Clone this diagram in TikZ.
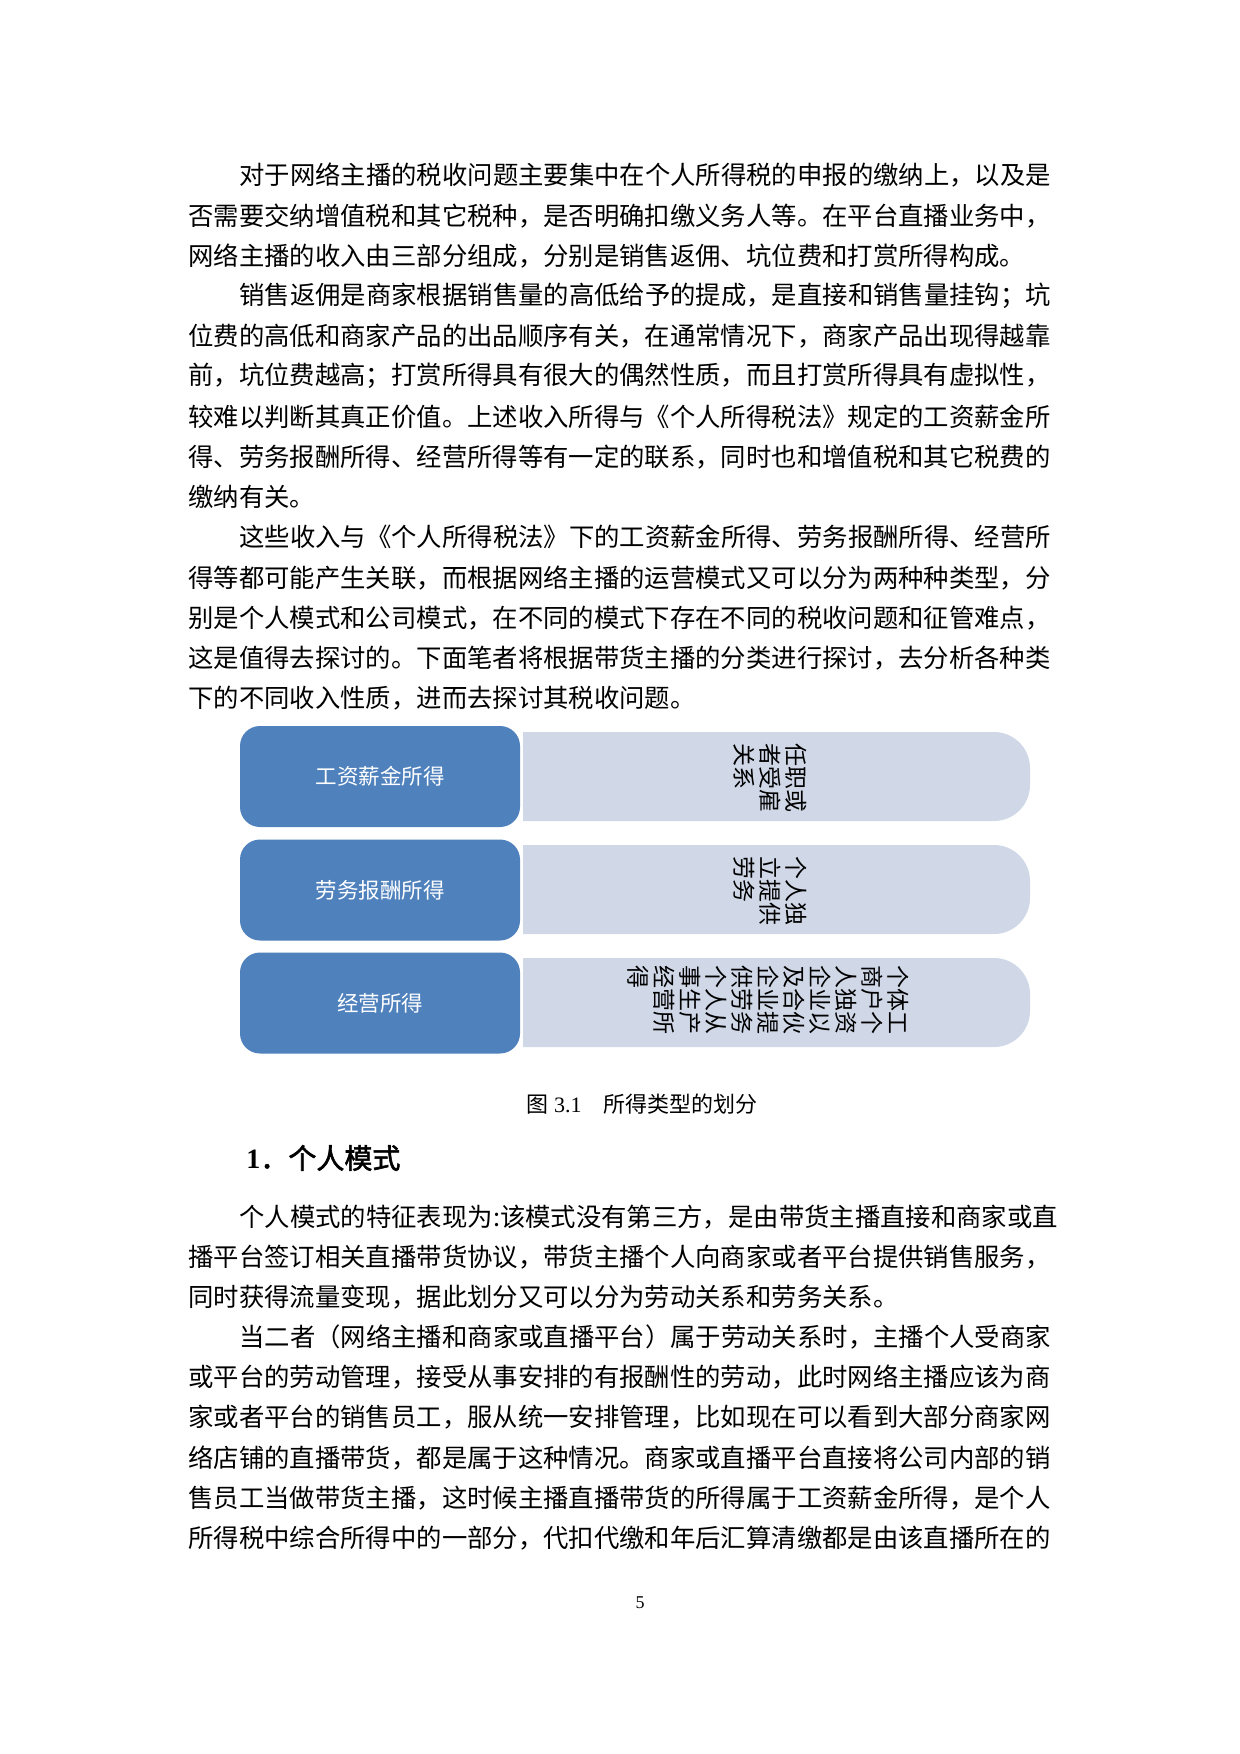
\documentclass[tikz,border=0pt]{standalone}
\usepackage{fontspec}
\setmainfont{Noto Sans CJK SC}
\newfontfamily\lat{Liberation Serif}
\newfontfamily\hd[FakeBold=2]{Noto Sans CJK SC}
\definecolor{lb}{HTML}{4F81BD}
\definecolor{rb}{HTML}{D0D8E8}
\begin{document}
\begin{tikzpicture}[x=0.5pt,y=-0.5pt,
  body/.style={anchor=west,inner sep=0pt,font=\fontsize{12.68}{12.68}\selectfont},
  lbox/.style={fill=lb,rounded corners=10pt,minimum width=140pt,minimum height=50.5pt,text=white,font=\fontsize{10.75}{12}\selectfont,inner sep=0pt},
  rtext/.style={rotate=-90,anchor=west,align=left,inner sep=0pt,font=\fontsize{11.5}{13}\selectfont}]
\useasboundingbox (0,0) rectangle (1240,1754);
\fill[white] (0,0) rectangle (1240,1754);
% paragraphs
\node[body] (l1) at (239,175) {对于网络主播的税收问题主要集中在个人所得税的申报的缴纳上，以及是};
\node[body] (l2) at (188,216) {否需要交纳增值税和其它税种，是否明确扣缴义务人等。在平台直播业务中，};
\node[body] (l3) at (188,256) {网络主播的收入由三部分组成，分别是销售返佣、坑位费和打赏所得构成。};
\node[body] (l4) at (239,296) {销售返佣是商家根据销售量的高低给予的提成，是直接和销售量挂钩；坑};
\node[body] (l5) at (188,336) {位费的高低和商家产品的出品顺序有关，在通常情况下，商家产品出现得越靠};
\node[body] (l6) at (188,376) {前，坑位费越高；打赏所得具有很大的偶然性质，而且打赏所得具有虚拟性，};
\node[body] (l7) at (188,417) {较难以判断其真正价值。上述收入所得与《个人所得税法》规定的工资薪金所};
\node[body] (l8) at (188,457) {得、劳务报酬所得、经营所得等有一定的联系，同时也和增值税和其它税费的};
\node[body] (l9) at (188,497) {缴纳有关。};
\node[body] (l10) at (239,537) {这些收入与《个人所得税法》下的工资薪金所得、劳务报酬所得、经营所};
\node[body] (l11) at (188,578) {得等都可能产生关联，而根据网络主播的运营模式又可以分为两种种类型，分};
\node[body] (l12) at (188,618) {别是个人模式和公司模式，在不同的模式下存在不同的税收问题和征管难点，};
\node[body] (l13) at (188,658) {这是值得去探讨的。下面笔者将根据带货主播的分类进行探讨，去分析各种类};
\node[body] (l14) at (188,698) {下的不同收入性质，进而去探讨其税收问题。};
% diagram
\fill[rb] (523,732) {[rounded corners=18pt] -- (1030,732) -- (1030,821)} -- (523,821) -- cycle;
\fill[rb] (523,845) {[rounded corners=18pt] -- (1030,845) -- (1030,934)} -- (523,934) -- cycle;
\fill[rb] (523,958) {[rounded corners=18pt] -- (1030,958) -- (1030,1047)} -- (523,1047) -- cycle;
\node[lbox] (b1) at (380,776.5) {工资薪金所得};
\node[lbox] (b2) at (380,890) {劳务报酬所得};
\node[lbox] (b3) at (380,1003) {经营所得};
\node[rtext] (t1) at (770,743) {任职或\\者受雇\\关系};
\node[rtext] (t2) at (770,856) {个人独\\立提供\\劳务};
\node[rtext] (t3) at (768,965) {个体工\\商户个\\人独资\\企业以\\及合伙\\企业提\\供劳务\\个人从\\事生产\\经营所\\得};
\node[inner sep=0pt,font=\fontsize{11}{11}\selectfont] (cap) at (642,1104) {图{\lat\ 3.1}　所得类型的划分};
\node[anchor=west,inner sep=0pt,font=\hd\fontsize{14}{14}\selectfont] (h1) at (246,1158) {{\lat\bfseries 1}．个人模式};
\node[body] (m1) at (239,1217) {个人模式的特征表现为:该模式没有第三方，是由带货主播直接和商家或直};
\node[body] (m2) at (188,1257) {播平台签订相关直播带货协议，带货主播个人向商家或者平台提供销售服务，};
\node[body] (m3) at (188,1297) {同时获得流量变现，据此划分又可以分为劳动关系和劳务关系。};
\node[body] (m4) at (239,1337) {当二者（网络主播和商家或直播平台）属于劳动关系时，主播个人受商家};
\node[body] (m5) at (188,1377) {或平台的劳动管理，接受从事安排的有报酬性的劳动，此时网络主播应该为商};
\node[body] (m6) at (188,1417) {家或者平台的销售员工，服从统一安排管理，比如现在可以看到大部分商家网};
\node[body] (m7) at (188,1458) {络店铺的直播带货，都是属于这种情况。商家或直播平台直接将公司内部的销};
\node[body] (m8) at (188,1498) {售员工当做带货主播，这时候主播直播带货的所得属于工资薪金所得，是个人};
\node[body] (m9) at (188,1538) {所得税中综合所得中的一部分，代扣代缴和年后汇算清缴都是由该直播所在的};
\node[inner sep=0pt,font=\lat\fontsize{9}{9}\selectfont] (pg) at (640,1603) {5};
\end{tikzpicture}
\end{document}
